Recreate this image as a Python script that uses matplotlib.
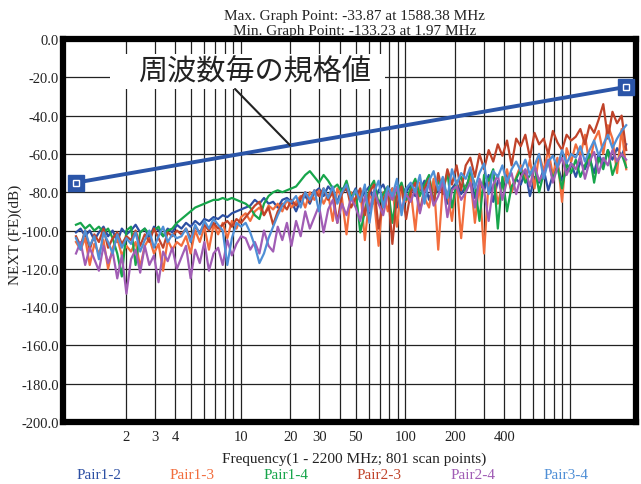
import numpy as np
import matplotlib
matplotlib.use("Agg")
import matplotlib.pyplot as plt
from matplotlib.patches import Rectangle
from matplotlib.ticker import FixedLocator, FixedFormatter, NullFormatter

plt.rcParams["axes.unicode_minus"] = False
SERIF = "Liberation Serif"

SERIES = ["Pair1-2", "Pair1-3", "Pair1-4", "Pair2-3", "Pair2-4", "Pair3-4"]
COLORS = ["#2c4fa3", "#f26d3d", "#17a54b", "#c0432a", "#a15db5", "#4f8fd6"]

# NEXT per pair (dB), sampled log-spaced from 1 to 2200 MHz
PAIR12 = [-101, -99, -103, -100, -105, -101, -98, -103, -100, -106, -99, -102,
          -100, -97, -101, -99, -104, -98, -100, -103, -99, -101, -97,
          -99, -96, -98, -95, -97, -94, -95, -93, -94, -92, -93, -91, -90, -89,
          -88, -87, -84, -86, -83, -86, -85, -88, -84, -83, -85,
          -90, -84, -82, -86, -80, -78, -82, -77, -80, -85, -78, -79, -83,
          -78, -84, -80, -77, -86, -79, -76, -82, -78, -88, -77, -80,
          -76, -82, -79, -74, -84, -77, -80, -73, -86, -78, -75, -81,
          -77, -72, -83, -75, -79, -71, -85, -74, -77, -70, -80, -73,
          -76, -69, -82, -72, -75, -68, -79, -71, -66, -74, -69, -65,
          -72, -64, -68, -62, -70, -60, -66, -58, -63, -57, -61, -55]
PAIR13 = [-106, -110, -104, -118, -107, -112, -105, -120, -109, -104, -113, -108,
          -111, -106, -119, -108, -104, -112, -107, -121, -105, -110, -106,
          -108, -103, -112, -100, -106, -98, -110, -97, -102, -96, -104, -95, -99, -93,
          -91, -95, -90, -88, -92, -87, -89, -86, -90, -84, -88,
          -85, -82, -88, -80, -84, -79, -86, -81, -95, -78, -83, -102, -80,
          -86, -79, -105, -82, -84, -108, -80, -90, -78, -98, -76, -85,
          -79, -100, -75, -83, -88, -73, -110, -77, -80, -95, -74, -104,
          -78, -72, -96, -75, -112, -74, -70, -86, -76, -68, -80, -72,
          -66, -74, -63, -78, -60, -69, -58, -71, -62, -85, -57, -64,
          -55, -61, -50, -66, -53, -48, -60, -45, -52, -70, -47, -68]
PAIR14 = [-97, -96, -99, -97, -100, -98, -101, -99, -104, -112, -124, -100,
          -98, -118, -101, -99, -102, -100, -98, -103, -100, -99, -96,
          -94, -92, -90, -88, -87, -86, -85, -84, -84, -83, -84, -83, -84, -85,
          -86, -88, -92, -94, -86, -82, -80, -79, -80, -79, -78,
          -77, -74, -71, -69, -72, -75, -71, -74, -78, -76, -80, -74, -83,
          -79, -101, -90, -78, -74, -86, -81, -77, -96, -80, -75, -84,
          -78, -73, -82, -76, -71, -85, -74, -79, -70, -88, -75, -72,
          -80, -69, -76, -95, -71, -74, -68, -99, -72, -90, -77, -73,
          -68, -75, -71, -66, -80, -70, -64, -73, -67, -78, -65, -70,
          -63, -72, -66, -60, -75, -62, -68, -58, -71, -64, -60, -67]
PAIR23 = [-103, -108, -100, -110, -102, -106, -99, -109, -104, -101, -107, -103,
          -105, -100, -108, -102, -106, -99, -104, -109, -101, -103, -100,
          -102, -99, -104, -98, -101, -97, -100, -96, -99, -97, -95, -98, -94, -96,
          -93, -90, -87, -85, -92, -88, -97, -90, -86, -89, -84,
          -87, -83, -80, -85, -79, -82, -78, -84, -80, -96, -81, -77, -88,
          -83, -78, -92, -80, -76, -99, -84, -79, -107, -82, -77, -94,
          -80, -75, -90, -78, -73, -86, -70, -81, -68, -76, -66, -79,
          -66, -62, -72, -60, -68, -58, -64, -55, -61, -53, -66, -52,
          -56, -50, -62, -49, -55, -52, -60, -48, -54, -58, -50, -53,
          -51, -47, -55, -45, -49, -42, -34, -52, -38, -44, -40, -58]
PAIR24 = [-112, -106, -118, -109, -115, -121, -108, -117, -111, -125, -113, -133,
          -115, -110, -122, -108, -118, -113, -127, -111, -116, -109, -120,
          -114, -108, -125, -110, -117, -106, -121, -112, -109, -118, -105, -113, -107, -103,
          -104, -110, -106, -112, -100, -108, -111, -98, -105, -96, -108,
          -95, -103, -90, -99, -93, -87, -101, -89, -84, -96, -86, -92, -83,
          -88, -95, -82, -90, -79, -86, -92, -80, -84, -77, -89, -81,
          -85, -78, -91, -80, -76, -87, -82, -74, -93, -79, -77, -84,
          -80, -75, -88, -73, -79, -95, -76, -71, -84, -74, -70, -81,
          -72, -68, -77, -66, -74, -70, -63, -75, -67, -62, -71, -65,
          -68, -61, -73, -64, -59, -70, -62, -66, -58, -64, -60, -63]
PAIR34 = [-104, -110, -100, -108, -103, -115, -101, -106, -112, -102, -109, -104,
          -107, -101, -111, -105, -100, -109, -103, -98, -106, -102, -104,
          -103, -99, -106, -97, -102, -95, -99, -94, -97, -100, -118, -104, -96, -98,
          -96, -101, -108, -117, -112, -104, -98, -92, -87, -84, -85,
          -82, -88, -80, -84, -79, -90, -78, -83, -77, -86, -80, -76, -84,
          -79, -85, -76, -96, -80, -74, -88, -77, -82, -73, -92, -78,
          -75, -80, -71, -86, -74, -69, -79, -72, -83, -68, -76, -70,
          -73, -67, -78, -70, -65, -81, -69, -72, -66, -75, -68, -64,
          -69, -63, -71, -66, -60, -73, -64, -61, -67, -58, -65, -60,
          -62, -56, -64, -58, -53, -61, -55, -50, -57, -52, -48, -45]
DATA = [PAIR12, PAIR13, PAIR14, PAIR23, PAIR24, PAIR34]

# limit line
LIMIT_FREQ = [1, 2200]
LIMIT_DB = [-75, -25]

YTICKS = [0, -20, -40, -60, -80, -100, -120, -140, -160, -180, -200]
XLABELED = [2, 3, 4, 10, 20, 30, 50, 100, 200, 400]
XGRID = [m * d for d in (1, 10, 100) for m in range(2, 10)] + [10, 100, 1000]

fig = plt.figure(figsize=(6.41, 4.85), dpi=100)
ax = fig.add_axes([0.0983, 0.1278, 0.894, 0.7897])
ax.set_xscale("log")
ax.set_xlim(0.834, 2525)
ax.set_ylim(-200, 0)

ax.xaxis.set_major_locator(FixedLocator(XLABELED))
ax.xaxis.set_minor_locator(FixedLocator(sorted(set(XGRID) - set(XLABELED))))
ax.xaxis.set_major_formatter(FixedFormatter([str(v) for v in XLABELED]))
ax.xaxis.set_minor_formatter(NullFormatter())
ax.set_yticks(YTICKS)
ax.set_yticklabels([f"{v:.1f}" for v in YTICKS])
ax.tick_params(which="both", length=0, labelsize=10.5, colors="#222222")
ax.tick_params(axis="x", pad=6)
ax.tick_params(axis="y", pad=3)
for lab in ax.get_xticklabels() + ax.get_yticklabels():
    lab.set_fontfamily(SERIF)

ax.grid(True, which="both", axis="x", color="#222222", lw=0.9, zorder=0)
ax.grid(True, which="major", axis="y", color="#222222", lw=0.9, zorder=0)
ax.set_axisbelow(True)
for sp in ax.spines.values():
    sp.set_linewidth(4.5)
    sp.set_color("black")

for vals, col in zip(DATA, COLORS):
    freq = np.geomspace(1, 2200, len(vals))
    ax.plot(freq, vals, color=col, lw=1.6, zorder=2)

ax.plot(LIMIT_FREQ, LIMIT_DB, color="#2b55a8", lw=2.8, zorder=4,
        marker="s", ms=11, mfc="#2b55a8", mec="#2b55a8", solid_capstyle="butt")
ax.plot(LIMIT_FREQ, LIMIT_DB, ls="none", marker="s", ms=5, mfc="none",
        mec="white", mew=1.0, zorder=5)

# callout for the limit line
ax.add_patch(Rectangle((0.082, 0.869), 0.48, 0.092, transform=ax.transAxes,
                       facecolor="white", edgecolor="none", zorder=3))
ax.text(0.334, 0.915, "周波数毎の規格値", transform=ax.transAxes,
        ha="center", va="center", fontsize=21, color="#222222",
        family=["Noto Sans CJK JP", "DejaVu Sans"], zorder=6)
lead_x = 20
lead_y = np.interp(np.log10(lead_x), np.log10(LIMIT_FREQ), LIMIT_DB)
ax.annotate("", xy=(lead_x, lead_y), xytext=(9.25, -26.1),
            arrowprops=dict(arrowstyle="-", color="#222222", lw=1.5,
                            shrinkA=0, shrinkB=0), zorder=6)

ax.set_ylabel("NEXT (FE)(dB)", family=SERIF, fontsize=11, color="#222222")
ax.yaxis.set_label_coords(-0.072, 0.49)
fig.text(0.553, 0.966, "Max. Graph Point: -33.87 at 1588.38 MHz", ha="center",
         va="center", family=SERIF, fontsize=11, color="#222222")
fig.text(0.553, 0.935, "Min. Graph Point: -133.23 at 1.97 MHz", ha="center",
         va="center", family=SERIF, fontsize=11, color="#222222")
fig.text(0.553, 0.053, "Frequency(1 - 2200 MHz; 801 scan points)", ha="center",
         va="center", family=SERIF, fontsize=11, color="#222222")

for k, (name, col) in enumerate(zip(SERIES, COLORS)):
    fig.text((99 + 93.4 * k) / 641, 0.019, name, ha="center", va="center",
             family=SERIF, fontsize=11, color=col)

fig.savefig("out.png", dpi=100)
